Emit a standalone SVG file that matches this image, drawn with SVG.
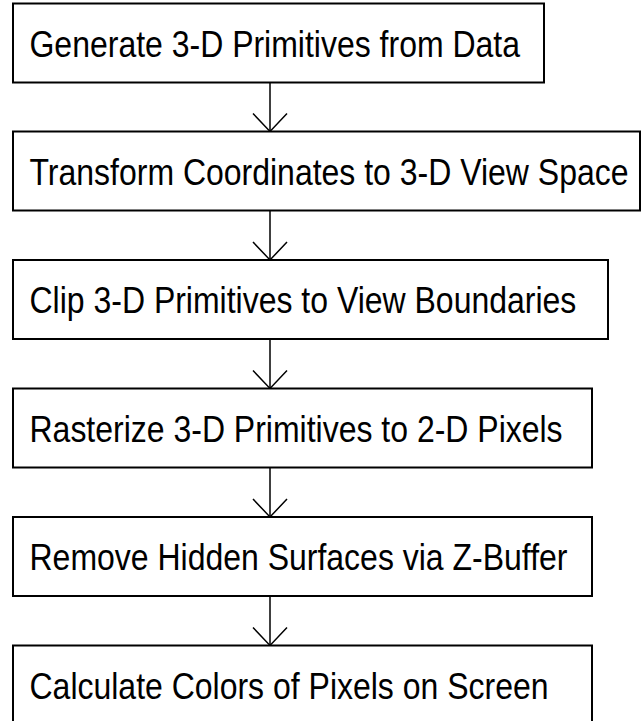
<svg xmlns="http://www.w3.org/2000/svg" width="642" height="721" viewBox="0 0 642 721">
  <style>
    .box { fill: #ffffff; stroke: #000000; stroke-width: 2; }
    .label { font-family: "Liberation Sans", Arial, sans-serif; font-size: 37.5px; fill: #000000; }
    .link { fill: none; stroke: #000000; stroke-width: 1.5; }
  </style>
  <defs>
    <marker id="open-arrow" markerUnits="userSpaceOnUse" markerWidth="40" markerHeight="40" refX="20" refY="20" orient="auto">
      <path d="M2,3 L20,20 L2,37" fill="none" stroke="#000000" stroke-width="1.5"/>
    </marker>
  </defs>
  <rect x="0" y="0" width="642" height="721" fill="#ffffff"/>

  <g id="connectors">
    <line class="link" x1="270" y1="82.5" x2="270" y2="131.5" marker-end="url(#open-arrow)"/>
    <line class="link" x1="270" y1="210.5" x2="270" y2="260" marker-end="url(#open-arrow)"/>
    <line class="link" x1="270" y1="339" x2="270" y2="388.5" marker-end="url(#open-arrow)"/>
    <line class="link" x1="270" y1="467.5" x2="270" y2="517" marker-end="url(#open-arrow)"/>
    <line class="link" x1="270" y1="596" x2="270" y2="645.5" marker-end="url(#open-arrow)"/>
  </g>

  <!-- labels use a tall, narrow face: scaled horizontally -->
  <g id="generate">
    <rect class="box" x="13" y="3.5" width="531" height="79"/>
    <text class="label" transform="translate(29.5,56.5) scale(0.853,1)">Generate 3-D Primitives from Data</text>
  </g>
  <g id="transform">
    <rect class="box" x="13" y="131.5" width="627" height="79"/>
    <text class="label" transform="translate(29.5,184.5) scale(0.853,1)">Transform Coordinates to 3-D View Space</text>
  </g>
  <g id="clip">
    <rect class="box" x="13" y="260" width="595" height="79"/>
    <text class="label" transform="translate(29.5,313) scale(0.853,1)">Clip 3-D Primitives to View Boundaries</text>
  </g>
  <g id="rasterize">
    <rect class="box" x="13" y="388.5" width="579" height="79"/>
    <text class="label" transform="translate(29.5,441.5) scale(0.853,1)">Rasterize 3-D Primitives to 2-D Pixels</text>
  </g>
  <g id="hidden-surfaces">
    <rect class="box" x="13" y="517" width="579" height="79"/>
    <text class="label" transform="translate(29.5,570) scale(0.853,1)">Remove Hidden Surfaces via Z-Buffer</text>
  </g>
  <g id="shading">
    <rect class="box" x="13" y="645.5" width="579" height="79"/>
    <text class="label" transform="translate(29.5,698.5) scale(0.853,1)">Calculate Colors of Pixels on Screen</text>
  </g>
</svg>
